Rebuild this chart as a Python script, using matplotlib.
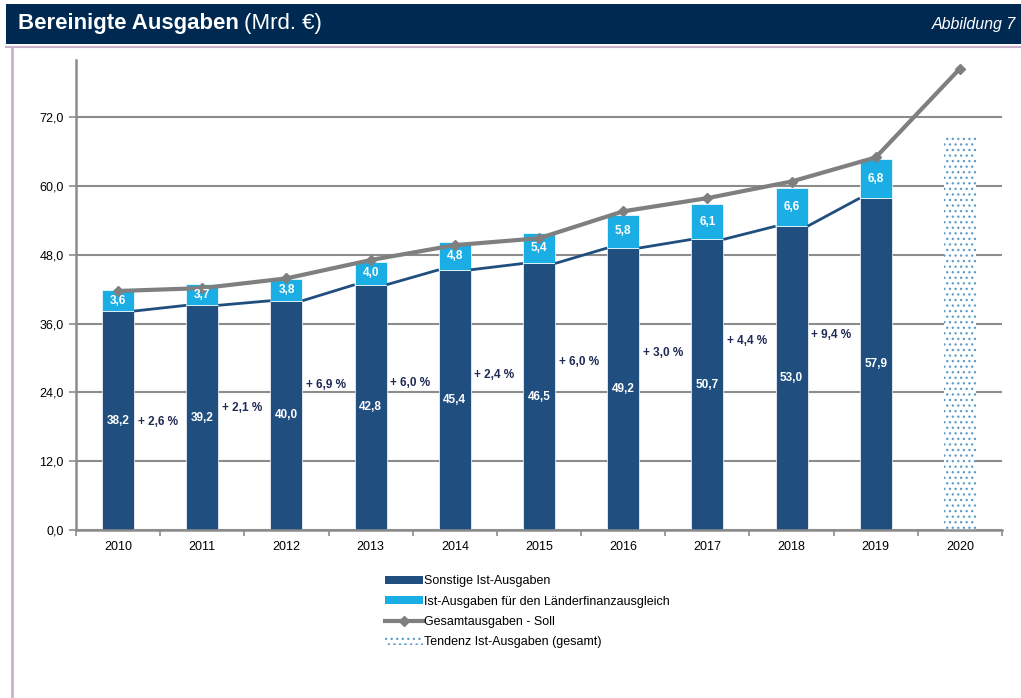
import matplotlib
matplotlib.use("Agg")
import matplotlib.pyplot as plt
from matplotlib import font_manager
from matplotlib.lines import Line2D
from matplotlib.patches import Patch, Rectangle
import numpy as np

# ---------------- data ----------------
years = ["2010", "2011", "2012", "2013", "2014", "2015", "2016", "2017", "2018", "2019", "2020"]
sonstige = [38.2, 39.2, 40.0, 42.8, 45.4, 46.5, 49.2, 50.7, 53.0, 57.9]
laenderfinanz = [3.6, 3.7, 3.8, 4.0, 4.8, 5.4, 5.8, 6.1, 6.6, 6.8]
soll = [41.7, 42.2, 43.9, 47.1, 49.7, 50.9, 55.6, 57.9, 60.8, 65.0, 80.5]
tendenz_2020 = 68.7
growth_pct = [2.6, 2.1, 6.9, 6.0, 2.4, 6.0, 3.0, 4.4, 9.4]
y_ticks = [0, 12, 24, 36, 48, 60, 72]

# layout for the growth labels (y in data units)
growth_label_y = [18.8, 21.3, 25.3, 25.6, 27.0, 29.3, 30.9, 32.9, 34.0]

# ---------------- styles ----------------
avail = {f.name for f in font_manager.fontManager.ttflist}
base_font = "Liberation Sans" if "Liberation Sans" in avail else "DejaVu Sans"
title_font = "Liberation Sans Narrow" if "Liberation Sans Narrow" in avail else base_font
plt.rcParams["font.family"] = [base_font, "DejaVu Sans"]
plt.rcParams["hatch.linewidth"] = 0.9

DARK = "#1F4E7F"
LIGHT = "#1BAEE4"
GRAY = "#7F7F7F"
GRID = "#8C8C8C"
NAVY = "#002952"
TXT = "#1F2A55"
FRAME = "#C9B1CC"
DOTS = "#5B9CC8"

W, H = 1021, 698
fig = plt.figure(figsize=(W / 100, H / 100), dpi=100)

# header band
fig.patches.append(Rectangle((6 / W, 1 - 44 / H), 1 - 6 / W, 40 / H, transform=fig.transFigure,
                             facecolor=NAVY, edgecolor="none", zorder=0))
# frame lines
fig.add_artist(Line2D([6 / W, 1], [1 - 47 / H, 1 - 47 / H], color=FRAME, lw=1.5))
fig.add_artist(Line2D([12 / W, 12 / W], [0, 1 - 47 / H], color=FRAME, lw=2))

title_size = 18 if title_font != base_font else 16
t1 = fig.text(18 / W, 1 - 24 / H, "Bereinigte Ausgaben", color="white", fontsize=title_size,
              fontweight="bold", family=title_font, va="center", ha="left")
fig.canvas.draw()
bb = t1.get_window_extent()
fig.text((bb.x1 + 5) / W, 1 - 24 / H, "(Mrd. €)", color="white", fontsize=title_size,
         family=title_font, va="center", ha="left")
fig.text(1016 / W, 1 - 25 / H, "Abbildung 7", color="white", fontsize=11.5, style="italic",
         va="center", ha="right")

# axes
ax = fig.add_axes([76 / W, 1 - 530 / H, (1002 - 76) / W, (530 - 60) / H])
x = np.arange(len(years))
n = len(sonstige)
bw = 0.38

ax.set_xlim(-0.5, len(years) - 0.5)
ax.set_ylim(0, 82)
ax.set_yticks(y_ticks)
ax.set_yticklabels([f"{v:.1f}".replace(".", ",") for v in y_ticks], fontsize=9)
ax.yaxis.grid(True, color=GRID, lw=1.5, zorder=0)
ax.set_axisbelow(True)
ax.set_xticks(x)
ax.set_xticklabels(years, fontsize=9)
ax.set_xticks(np.arange(-0.5, len(years)), minor=True)
ax.tick_params(axis="x", which="major", length=0, pad=8)
ax.tick_params(axis="x", which="minor", length=4, color=GRID, width=1.2)
ax.tick_params(axis="y", length=5, color=GRID, width=1.2, pad=4)
for s in ["top", "right"]:
    ax.spines[s].set_visible(False)
for s in ["left", "bottom"]:
    ax.spines[s].set_color(GRID)
    ax.spines[s].set_linewidth(1.8)

# stacked bars
ax.bar(x[:n], sonstige, bw, color=DARK, edgecolor="white", linewidth=0.5, zorder=2)
ax.bar(x[:n], laenderfinanz, bw, bottom=sonstige, color=LIGHT, edgecolor="white",
       linewidth=0.5, zorder=2)

# 2020 trend bar (dotted)
ax.bar(x[n], tendenz_2020, bw, color="white", edgecolor=DOTS, hatch="...",
       linewidth=0, zorder=2)

# series line connecting dark bar tops
for i in range(n - 1):
    ax.plot([x[i] + bw / 2, x[i + 1] - bw / 2], [sonstige[i], sonstige[i + 1]],
            color=DARK, lw=2, zorder=3, solid_capstyle="butt")

# Soll line
ax.plot(x, soll, color=GRAY, lw=3, marker="D", markersize=5.5, zorder=4)

# value labels
for i in range(n):
    ax.text(x[i], sonstige[i] / 2, f"{sonstige[i]:.1f}".replace(".", ","), color="white",
            fontsize=8.5, fontweight="bold", ha="center", va="center", zorder=5)
    ax.text(x[i], sonstige[i] + laenderfinanz[i] / 2, f"{laenderfinanz[i]:.1f}".replace(".", ","),
            color="white", fontsize=8.5, fontweight="bold", ha="center", va="center", zorder=5)

for i, g in enumerate(growth_pct):
    ax.text(x[i] + 0.47, growth_label_y[i], "+ " + f"{g:.1f}".replace(".", ",") + " %",
            color=TXT, fontsize=8.5, fontweight="bold", ha="center", va="center", zorder=5)

# legend
handles = [
    Patch(facecolor=DARK, edgecolor="none"),
    Patch(facecolor=LIGHT, edgecolor="none"),
    Line2D([], [], color=GRAY, lw=3, marker="D", markersize=5),
    Patch(facecolor="white", edgecolor=DOTS, hatch="...", linewidth=0),
]
labels = ["Sonstige Ist-Ausgaben", "Ist-Ausgaben für den Länderfinanzausgleich",
          "Gesamtausgaben - Soll", "Tendenz Ist-Ausgaben (gesamt)"]
fig.legend(handles, labels, loc="upper left", bbox_to_anchor=(380 / W, 1 - 570 / H),
           frameon=False, fontsize=9, handlelength=3.0, handleheight=0.6, handletextpad=0.1,
           labelspacing=0.68, borderaxespad=0)

fig.savefig("out.png", dpi=100)
